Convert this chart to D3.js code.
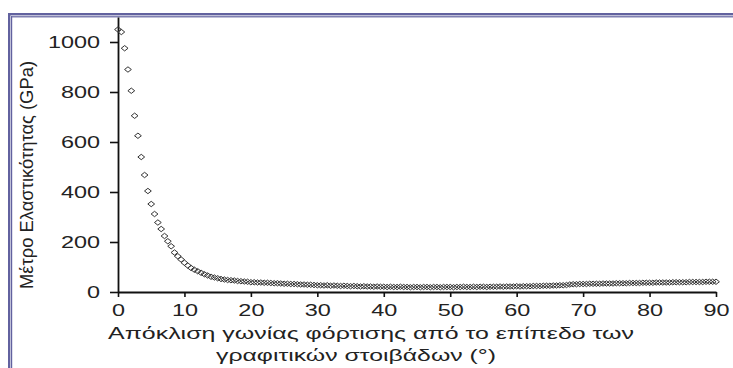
<!DOCTYPE html>
<html><head><meta charset="utf-8">
<script src="https://cdn.jsdelivr.net/npm/d3@7"></script>
<style>html,body{margin:0;padding:0;background:#fff;overflow:hidden}svg{display:block}</style>
</head><body>
<svg id="chart" width="733" height="368"></svg>
<script>
// ---- data ----
const angles = [
 0,0.5,1,1.5,2,2.5,3,3.5,4,4.5,5,5.5,6,6.5,7,7.5,8,8.5,9,9.5,
 10,10.5,11,11.5,12,12.5,13,13.5,14,14.5,15,15.5,16,16.5,17,17.5,18,18.5,19,19.5,
 20,20.5,21,21.5,22,22.5,23,23.5,24,24.5,25,25.5,26,26.5,27,27.5,28,28.5,29,29.5,
 30,30.5,31,31.5,32,32.5,33,33.5,34,34.5,35,35.5,36,36.5,37,37.5,38,38.5,39,39.5,
 40,40.5,41,41.5,42,42.5,43,43.5,44,44.5,45,45.5,46,46.5,47,47.5,48,48.5,49,49.5,
 50,50.5,51,51.5,52,52.5,53,53.5,54,54.5,55,55.5,56,56.5,57,57.5,58,58.5,59,59.5,
 60,60.5,61,61.5,62,62.5,63,63.5,64,64.5,65,65.5,66,66.5,67,67.5,68,68.5,69,69.5,
 70,70.5,71,71.5,72,72.5,73,73.5,74,74.5,75,75.5,76,76.5,77,77.5,78,78.5,79,79.5,
 80,80.5,81,81.5,82,82.5,83,83.5,84,84.5,85,85.5,86,86.5,87,87.5,88,88.5,89,89.5,90
];
const modulus = [
 1050,1040,975,890,805,705,625,540,468,404,352,312,278,252,224,203,183,158,143,130,
 117,106,96,89,83,77,71,66,61,58,55,52,50,48,47,46,44,43,42,41,
 39,39,38,38,37,37,36,35,35,34,33,33,32,32,31,30,30,29,29,28,
 27,27,26,27,25,26,25,24,25,24,23,24,23,22,23,22,22,21,22,21,
 21,20,21,20,20,21,20,20,19,20,20,19,20,20,19,20,20,19,20,20,
 20,19,20,20,21,20,20,21,20,21,21,20,21,21,21,22,21,22,22,22,
 23,22,23,23,23,24,24,24,25,25,25,26,26,27,27,28,30,31,31,32,
 32,32,33,33,33,33,34,34,34,34,35,35,35,35,36,36,36,36,37,37,
 37,37,38,38,38,38,38,39,39,39,39,39,40,40,40,40,40,41,41,41,41
];
const xTicks = [0,10,20,30,40,50,60,70,80,90];
const yTicks = [0,200,400,600,800,1000];
const xTitle1 = "Απόκλιση γωνίας φόρτισης από το επίπεδο των";
const xTitle2 = "γραφιτικών στοιβάδων (°)";
const yTitle = "Μέτρο Ελαστικότητας (GPa)";

const points = angles.map((a,i)=>({a, e: modulus[i]}));

const svg = d3.select("#chart");
const font = "'Liberation Sans', Arial, sans-serif";
const frameColor = "#62629f";

// frame (double line top and left)
svg.append("rect").attr("x",8).attr("y",13).attr("width",725).attr("height",2.4).attr("fill",frameColor);
svg.append("rect").attr("x",11).attr("y",16.2).attr("width",722).attr("height",1.2).attr("fill",frameColor);
svg.append("rect").attr("x",8).attr("y",13).attr("width",2.4).attr("height",355).attr("fill",frameColor);
svg.append("rect").attr("x",11).attr("y",16.2).attr("width",1.2).attr("height",352).attr("fill",frameColor);

const x = d3.scaleLinear().domain([0,90]).range([118,716]);
const y = d3.scaleLinear().domain([0,1100]).range([292,17]);

// axes
const gx = svg.append("g").attr("transform",`translate(0,${y(0)})`)
  .call(d3.axisBottom(x).tickValues(xTicks).tickFormat(d3.format("d")).tickSize(5).tickSizeOuter(0));
const gy = svg.append("g").attr("transform",`translate(${x(0)},0)`)
  .call(d3.axisLeft(y).tickValues(yTicks).tickFormat(d3.format("d")).tickSize(8).tickSizeOuter(0));

[gx,gy].forEach(g=>{
  g.select(".domain").attr("stroke","#111").attr("stroke-width",1.8);
  g.selectAll(".tick line").attr("stroke","#111").attr("stroke-width",1.6);
  g.selectAll(".tick text").attr("font-family",font).attr("font-size",16.5).attr("fill","#222");
});
gx.selectAll(".tick text").attr("y",0).attr("dy",0)
  .attr("transform","translate(0,23.5) scale(1.42,1)");
gy.selectAll(".tick text").attr("x",0).attr("dy","0.36em")
  .attr("transform","translate(-18,0) scale(1.42,1)");

// points (open diamonds)
svg.append("g").selectAll("path").data(points).join("path")
  .attr("transform",d=>`translate(${x(d.a)},${y(d.e)})`)
  .attr("d","M0,-2.7L3.4,0L0,2.7L-3.4,0Z")
  .attr("fill","none").attr("stroke","#333").attr("stroke-width",1);

// titles
svg.append("text").attr("x",108).attr("y",339).attr("font-family",font).attr("font-size",17)
  .attr("fill","#222").attr("textLength",526).attr("lengthAdjust","spacingAndGlyphs").text(xTitle1);
svg.append("text").attr("x",216).attr("y",361).attr("font-family",font).attr("font-size",17)
  .attr("fill","#222").attr("textLength",280).attr("lengthAdjust","spacingAndGlyphs").text(xTitle2);
svg.append("text").attr("transform","translate(33,175) rotate(-90)").attr("text-anchor","middle")
  .attr("font-family",font).attr("font-size",17.5).attr("fill","#222")
  .attr("textLength",228).attr("lengthAdjust","spacingAndGlyphs").text(yTitle);
</script>
</body></html>
